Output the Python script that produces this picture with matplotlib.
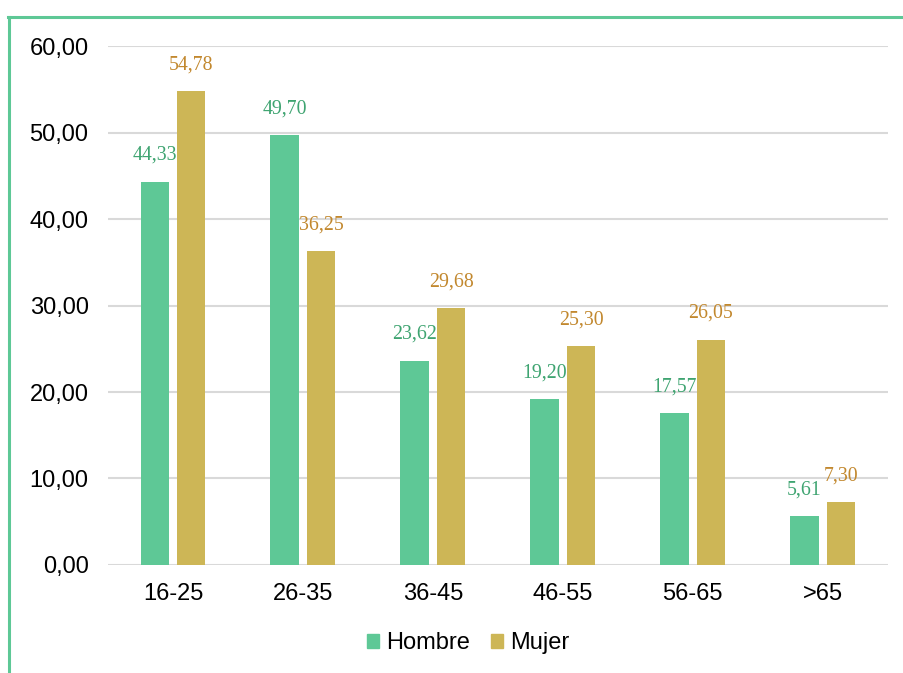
import matplotlib.pyplot as plt
import numpy as np
from matplotlib.lines import Line2D
from matplotlib.patches import Patch

categories = ['16-25', '26-35', '36-45', '46-55', '56-65', '>65']
hombre = [44.33, 49.70, 23.62, 19.20, 17.57, 5.61]
mujer = [54.78, 36.25, 29.68, 25.30, 26.05, 7.30]

green = '#5ec896'
gold = '#cdb656'
green_txt = '#3fa471'
gold_txt = '#c2882e'

fig = plt.figure(figsize=(9.04, 6.73), dpi=100)
ax = fig.add_axes([0.1195, 0.1605, 0.8625, 0.7711])

x = np.arange(len(categories))
w = 0.22
off = 0.14
ax.bar(x - off, hombre, w, color=green, zorder=3)
ax.bar(x + off, mujer, w, color=gold, zorder=3)

for xi, h, m in zip(x, hombre, mujer):
    ax.annotate(f'{h:.2f}'.replace('.', ','), (xi - off, h), xytext=(0, 12),
                textcoords='offset points', ha='center', va='bottom',
                color=green_txt, fontsize=14.3, family='Liberation Serif')
    ax.annotate(f'{m:.2f}'.replace('.', ','), (xi + off, m), xytext=(0, 12),
                textcoords='offset points', ha='center', va='bottom',
                color=gold_txt, fontsize=14.3, family='Liberation Serif')

ax.set_xlim(-0.5, len(categories) - 0.5)
ax.set_ylim(0, 60)
ax.set_yticks(np.arange(0, 61, 10))
ax.set_yticklabels([f'{v:.2f}'.replace('.', ',') for v in np.arange(0, 61, 10)])
ax.set_xticks(x)
ax.set_xticklabels(categories)
ax.tick_params(length=0, labelsize=17)
ax.tick_params(axis='y', pad=14)
ax.tick_params(axis='x', pad=13)
for lbl in ax.get_xticklabels() + ax.get_yticklabels():
    lbl.set_family('Liberation Sans')
ax.grid(axis='y', color='#d9d9d9', linewidth=1.5, zorder=0)
for s in ax.spines.values():
    s.set_visible(False)

handles = [Patch(color=green, label='Hombre'), Patch(color=gold, label='Mujer')]
fig.legend(handles=handles, loc='center', bbox_to_anchor=(0.518, 0.044), ncol=2,
           frameon=False, handlelength=0.5, handleheight=0.5, handletextpad=0.3,
           columnspacing=0.9, prop={'family': 'Liberation Sans', 'size': 17})

# partial border
fig.add_artist(Line2D([0.009, 1.0], [0.974, 0.974], color=green, lw=2.2,
                      transform=fig.transFigure))
fig.add_artist(Line2D([0.0105, 0.0105], [0.0, 0.974], color=green, lw=2.2,
                      transform=fig.transFigure))

fig.savefig('out.png', dpi=100)
